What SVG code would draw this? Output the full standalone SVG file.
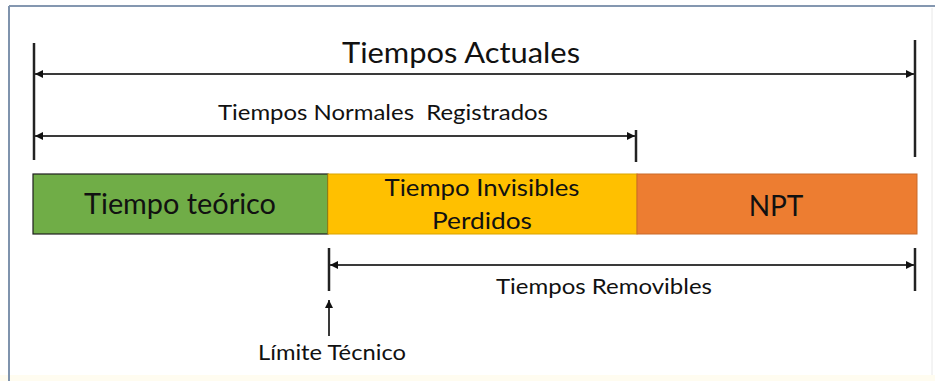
<svg xmlns="http://www.w3.org/2000/svg" width="935" height="381" viewBox="0 0 935 381">
<defs>
<style>
.t{font-family:Lato,"Open Sans","Liberation Sans",sans-serif;fill:#111;text-anchor:middle}
.dim{stroke:#3a3a3a;stroke-width:2;fill:none}
.tick{stroke:#222;stroke-width:2.5;fill:none}
</style>
<marker id="ah" viewBox="0 0 10 10" refX="10" refY="5" markerWidth="9" markerHeight="8" markerUnits="userSpaceOnUse" orient="auto-start-reverse">
<path d="M0,0 L10,5 L0,10 z" fill="#111"/>
</marker>
</defs>
<rect x="0" y="0" width="935" height="381" fill="#ffffff"/>
<rect x="0" y="375" width="935" height="6" fill="#fffcf0"/>
<line x1="9" y1="6" x2="935" y2="6" stroke="#8497b0" stroke-width="2"/>
<line x1="9" y1="6" x2="9" y2="381" stroke="#7f93ad" stroke-width="2"/>
<line x1="932" y1="8" x2="932" y2="375" stroke="#e8e8e8" stroke-width="1"/>

<g id="bar-teorico">
<rect x="33" y="174" width="295" height="60" fill="#70ad47" stroke="#1e1e1e" stroke-width="1.2"/>
<text class="t" x="180" y="214" font-size="28" textLength="192" lengthAdjust="spacingAndGlyphs">Tiempo teórico</text>
</g>
<g id="bar-invisibles">
<rect x="328" y="174" width="309" height="60" fill="#ffc000" stroke="#d9a300" stroke-width="1"/>
<text class="t" x="482" y="196" font-size="23" textLength="195" lengthAdjust="spacingAndGlyphs">Tiempo Invisibles</text>
<text class="t" x="482" y="229" font-size="23" textLength="100" lengthAdjust="spacingAndGlyphs">Perdidos</text>
</g>
<g id="bar-npt">
<rect x="637" y="174" width="280" height="60" fill="#ed7d31" stroke="#c96a2a" stroke-width="1"/>
<text class="t" x="776" y="216" font-size="28">NPT</text>
</g>

<g id="label-actuales"><text class="t" x="461" y="63" font-size="29" textLength="238" lengthAdjust="spacingAndGlyphs">Tiempos Actuales</text></g>
<g id="label-normales"><text class="t" x="383" y="120" font-size="22" textLength="330" lengthAdjust="spacingAndGlyphs" xml:space="preserve">Tiempos Normales  Registrados</text></g>
<g id="label-removibles"><text class="t" x="604" y="294" font-size="22" textLength="216" lengthAdjust="spacingAndGlyphs">Tiempos Removibles</text></g>
<g id="label-limite"><text class="t" x="332" y="360" font-size="22" textLength="148" lengthAdjust="spacingAndGlyphs">Límite Técnico</text></g>

<g id="connectors">
<line class="tick" x1="34" y1="43" x2="34" y2="160"/>
<line class="tick" x1="915" y1="40" x2="915" y2="157"/>
<line class="tick" x1="636" y1="130" x2="636" y2="162"/>
<line class="tick" x1="329" y1="248" x2="329" y2="291"/>
<line class="tick" x1="915" y1="248" x2="915" y2="291"/>
<line class="dim" x1="35" y1="74" x2="914" y2="74" marker-start="url(#ah)" marker-end="url(#ah)"/>
<line class="dim" x1="35" y1="136" x2="635" y2="136" marker-start="url(#ah)" marker-end="url(#ah)"/>
<line class="dim" x1="330" y1="265" x2="914" y2="265" marker-start="url(#ah)" marker-end="url(#ah)"/>
<line class="dim" x1="329" y1="336" x2="329" y2="300" marker-end="url(#ah)"/>
</g>
</svg>
